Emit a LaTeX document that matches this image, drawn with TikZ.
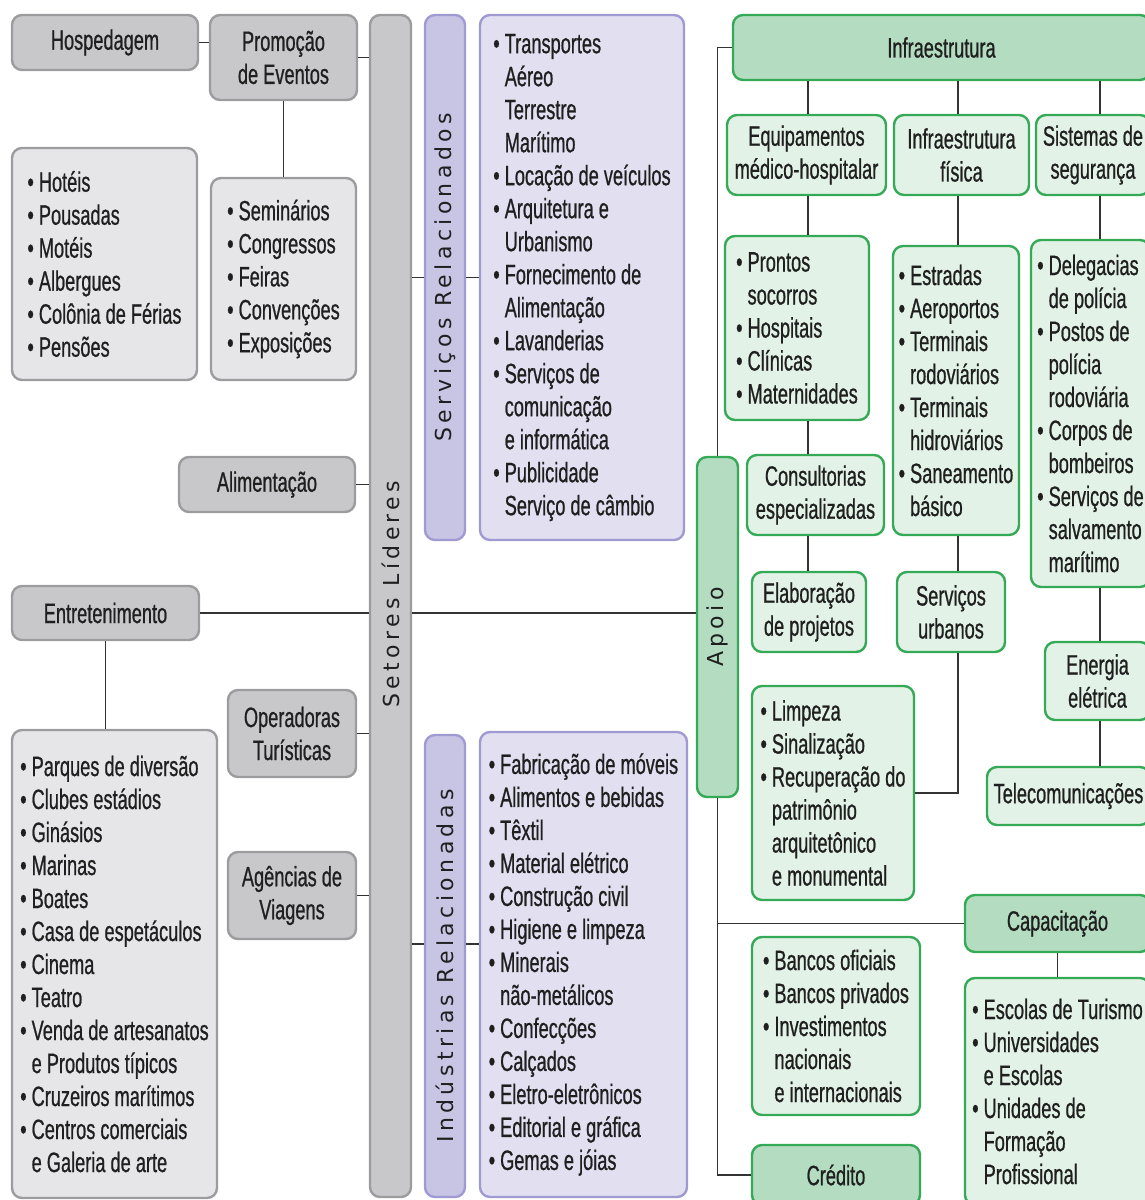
\documentclass[tikz,border=0pt]{standalone}
\usepackage{fontspec}
\usepackage{graphicx}
\setmainfont{Liberation Sans}[FakeStretch=0.65, FakeBold=0.7]
\newfontfamily\barfont{DejaVu Sans}[LetterSpace=20]

\definecolor{grayfill}{HTML}{C8C8CA}
\definecolor{grayline}{HTML}{9C9C9F}
\definecolor{graylight}{HTML}{E6E6E8}
\definecolor{purplefill}{HTML}{C8C4E4}
\definecolor{purpleline}{HTML}{A09AD2}
\definecolor{purplelight}{HTML}{E1DFF0}
\definecolor{greenfill}{HTML}{B3DCC0}
\definecolor{greenline}{HTML}{34AA56}
\definecolor{greenlight}{HTML}{E2F2E6}
\definecolor{linkgray}{HTML}{333333}

\newcommand{\bl}{\textbullet\ }
\newcommand{\ct}{\hphantom{\textbullet\ }}

\begin{document}
\begin{tikzpicture}[
    x=1pt, y=-1pt,
    box_base/.style={rounded corners=10pt, line width=2.4pt, inner sep=3pt, align=center,
        font=\fontsize{28}{33}\selectfont, text=black!88},
    gray_box/.style={box_base, draw=grayline, fill=grayfill},
    gray_list/.style={box_base, draw=grayline, fill=graylight, align=left},
    gray_bar/.style={box_base, draw=grayline, fill=grayfill, font=\barfont\fontsize{22}{26}\selectfont},
    purple_bar/.style={box_base, draw=purpleline, fill=purplefill, font=\barfont\fontsize{22}{26}\selectfont},
    purple_list/.style={box_base, draw=purpleline, fill=purplelight, align=left},
    green_head/.style={box_base, draw=greenline, fill=greenfill},
    green_box/.style={box_base, draw=greenline, fill=greenlight},
    green_list/.style={box_base, draw=greenline, fill=greenlight, align=left},
    green_bar/.style={box_base, draw=greenline, fill=greenfill, font=\barfont\fontsize{22}{26}\selectfont},
    link_style/.style={line width=1.5pt, linkgray}
]

    \useasboundingbox (0,0) rectangle (1145,1200);
    \clip (0,0) rectangle (1145,1200);

    % Setores lideres
    \node[gray_bar, minimum width=41, minimum height=1182] (setores) at (390.5,606) {\rotatebox{90}{\hspace{24pt}Setores Líderes}};
    \node[gray_box, minimum width=186, minimum height=55] (hospedagem) at (105,42.5) {Hospedagem};
    \node[gray_box, minimum width=147, minimum height=85] (promocao) at (283.5,57.5) {Promoção\\de Eventos};
    \node[gray_list, minimum width=185, minimum height=232] (hospedagem_list) at (104.5,264)
        {\bl Hotéis\\\bl Pousadas\\\bl Motéis\\\bl Albergues\\\bl Colônia de Férias\\\bl Pensões};
    \node[gray_list, minimum width=145, minimum height=202] (promocao_list) at (283.5,279)
        {\bl Seminários\\\bl Congressos\\\bl Feiras\\\bl Convenções\\\bl Exposições};
    \node[gray_box, minimum width=176, minimum height=55] (alimentacao) at (267,484.5) {Alimentação};
    \node[gray_box, minimum width=187, minimum height=54] (entretenimento) at (105.5,613) {Entretenimento};
    \node[gray_box, minimum width=128, minimum height=87] (operadoras) at (292,733.5) {Operadoras\\Turísticas};
    \node[gray_box, minimum width=128, minimum height=87] (agencias) at (292,895.5) {Agências de\\Viagens};
    \node[gray_list, minimum width=205, minimum height=468] (entretenimento_list) at (114.5,964)
        {\bl Parques de diversão\\\bl Clubes estádios\\\bl Ginásios\\\bl Marinas\\\bl Boates\\
         \bl Casa de espetáculos\\\bl Cinema\\\bl Teatro\\\bl Venda de artesanatos\\\ct e Produtos típicos\\
         \bl Cruzeiros marítimos\\\bl Centros comerciais\\\ct e Galeria de arte};

    % Relacionados
    \node[purple_bar, minimum width=40, minimum height=525] (servicos) at (445,277.5) {\rotatebox{90}{Serviços Relacionados}};
    \node[purple_list, minimum width=204, minimum height=525] (servicos_list) at (582,277.5)
        {\bl Transportes\\\ct Aéreo\\\ct Terrestre\\\ct Marítimo\\\bl Locação de veículos\\\bl Arquitetura e\\
         \ct Urbanismo\\\bl Fornecimento de\\\ct Alimentação\\\bl Lavanderias\\\bl Serviços de\\
         \ct comunicação\\\ct e informática\\\bl Publicidade\\\ct Serviço de câmbio};
    \node[purple_bar, minimum width=40, minimum height=462] (industrias) at (445,966) {\rotatebox{90}{Indústrias Relacionadas}};
    \node[purple_list, minimum width=207, minimum height=465] (industrias_list) at (583.5,964.5)
        {\bl Fabricação de móveis\\\bl Alimentos e bebidas\\\bl Têxtil\\\bl Material elétrico\\
         \bl Construção civil\\\bl Higiene e limpeza\\\bl Minerais\\\ct não-metálicos\\\bl Confecções\\
         \bl Calçados\\\bl Eletro-eletrônicos\\\bl Editorial e gráfica\\\bl Gemas e jóias};

    % Apoio
    \node[green_bar, minimum width=41, minimum height=340] (apoio) at (717.5,627) {\rotatebox{90}{Apoio}};
    \node[green_head, minimum width=417, minimum height=65] (infraestrutura) at (941.5,47.5) {Infraestrutura};
    \node[green_box, minimum width=159, minimum height=80] (equipamentos) at (806.5,155) {Equipamentos\\médico-hospitalar};
    \node[green_box, minimum width=135, minimum height=80] (fisica) at (961.5,155) {Infraestrutura\\física};
    \node[green_box, minimum width=114, minimum height=80] (seguranca) at (1093,155) {Sistemas de\\segurança};
    \node[green_list, minimum width=144, minimum height=184] (saude_list) at (797,328)
        {\bl Prontos\\\ct socorros\\\bl Hospitais\\\bl Clínicas\\\bl Maternidades};
    \node[green_box, minimum width=137, minimum height=80] (consultorias) at (815.5,495) {Consultorias\\especializadas};
    \node[green_box, minimum width=114, minimum height=80] (projetos) at (809,612) {Elaboração\\de projetos};
    \node[green_list, minimum width=126, minimum height=289] (fisica_list) at (956,390.5)
        {\bl Estradas\\\bl Aeroportos\\\bl Terminais\\\ct rodoviários\\\bl Terminais\\\ct hidroviários\\
         \bl Saneamento\\\ct básico};
    \node[green_box, minimum width=108, minimum height=80] (urbanos) at (951,612) {Serviços\\urbanos};
    \node[green_list, minimum width=162, minimum height=214] (urbanos_list) at (833,793)
        {\bl Limpeza\\\bl Sinalização\\\bl Recuperação do\\\ct patrimônio\\\ct arquitetônico\\\ct e monumental};
    \node[green_list, minimum width=119, minimum height=347] (seguranca_list) at (1090.5,413.5)
        {\bl Delegacias\\\ct de polícia\\\bl Postos de\\\ct polícia\\\ct rodoviária\\\bl Corpos de\\
         \ct bombeiros\\\bl Serviços de\\\ct salvamento\\\ct marítimo};
    \node[green_box, minimum width=105, minimum height=78] (energia) at (1097.5,681) {Energia\\elétrica};
    \node[green_box, minimum width=163, minimum height=58] (telecom) at (1068.5,796) {Telecomunicações};
    \node[green_head, minimum width=185, minimum height=57] (capacitacao) at (1057.5,923.5) {Capacitação};
    \node[green_list, minimum width=185, minimum height=227] (capacitacao_list) at (1057.5,1091.5)
        {\bl Escolas de Turismo\\\bl Universidades\\\ct e Escolas\\\bl Unidades de\\\ct Formação\\\ct Profissional};
    \node[green_list, minimum width=168, minimum height=178] (credito_list) at (836,1026)
        {\bl Bancos oficiais\\\bl Bancos privados\\\bl Investimentos\\\ct nacionais\\\ct e internacionais};
    \node[green_head, minimum width=168, minimum height=60] (credito) at (836,1175) {Crédito};

    \coordinate (col_a) at (808,0);
    \coordinate (col_b) at (958,0);
    \coordinate (col_c) at (1100,0);
    \coordinate (ind_link) at ([yshift=22pt]industrias.west);

    % Links, left side
    \draw[link_style] (hospedagem.east) -- (hospedagem.east -| promocao.west);
    \draw[link_style] (promocao.east) -- (promocao.east -| setores.west);
    \draw[link_style] (promocao.south) -- (promocao_list.north);
    \draw[link_style] (alimentacao.east) -- (alimentacao.east -| setores.west);
    \draw[link_style] (entretenimento.east) -- (entretenimento.east -| setores.west);
    \draw[link_style] (entretenimento.south) -- (entretenimento.south |- entretenimento_list.north);
    \draw[link_style] (operadoras.east) -- (operadoras.east -| setores.west);
    \draw[link_style] (agencias.east) -- (agencias.east -| setores.west);
    \draw[link_style] (setores.east |- servicos.west) -- (servicos.west);
    \draw[link_style] (servicos.east) -- (servicos_list.west);
    \draw[link_style] (setores.east |- ind_link) -- (ind_link);
    \draw[link_style] ([yshift=22pt]industrias.east) -- (ind_link -| industrias_list.west);
    \draw[link_style] (setores.east |- entretenimento.east) -- (entretenimento.east -| apoio.west);

    % Links, apoio
    \draw[link_style] (apoio.north) -- (apoio.north |- infraestrutura.west) -- (infraestrutura.west);
    \draw[link_style] (apoio.south) -- (apoio.south |- credito.west) -- (credito.west);
    \draw[link_style] (apoio.south |- capacitacao.west) -- (capacitacao.west);
    \draw[link_style] (col_a |- infraestrutura.south) -- (col_a |- equipamentos.north);
    \draw[link_style] (col_a |- equipamentos.south) -- (col_a |- saude_list.north);
    \draw[link_style] (col_a |- saude_list.south) -- (col_a |- consultorias.north);
    \draw[link_style] (col_a |- consultorias.south) -- (col_a |- projetos.north);
    \draw[link_style] (col_b |- infraestrutura.south) -- (col_b |- fisica.north);
    \draw[link_style] (col_b |- fisica.south) -- (col_b |- fisica_list.north);
    \draw[link_style] (col_b |- fisica_list.south) -- (col_b |- urbanos.north);
    \draw[link_style] (col_b |- urbanos.south) -- (col_b |- urbanos_list.east) -- (urbanos_list.east);
    \draw[link_style] (col_c |- infraestrutura.south) -- (col_c |- seguranca.north);
    \draw[link_style] (col_c |- seguranca.south) -- (col_c |- seguranca_list.north);
    \draw[link_style] (col_c |- seguranca_list.south) -- (col_c |- energia.north);
    \draw[link_style] (col_c |- energia.south) -- (col_c |- telecom.north);
    \draw[link_style] (capacitacao.south) -- (capacitacao.south |- capacitacao_list.north);

\end{tikzpicture}
\end{document}
